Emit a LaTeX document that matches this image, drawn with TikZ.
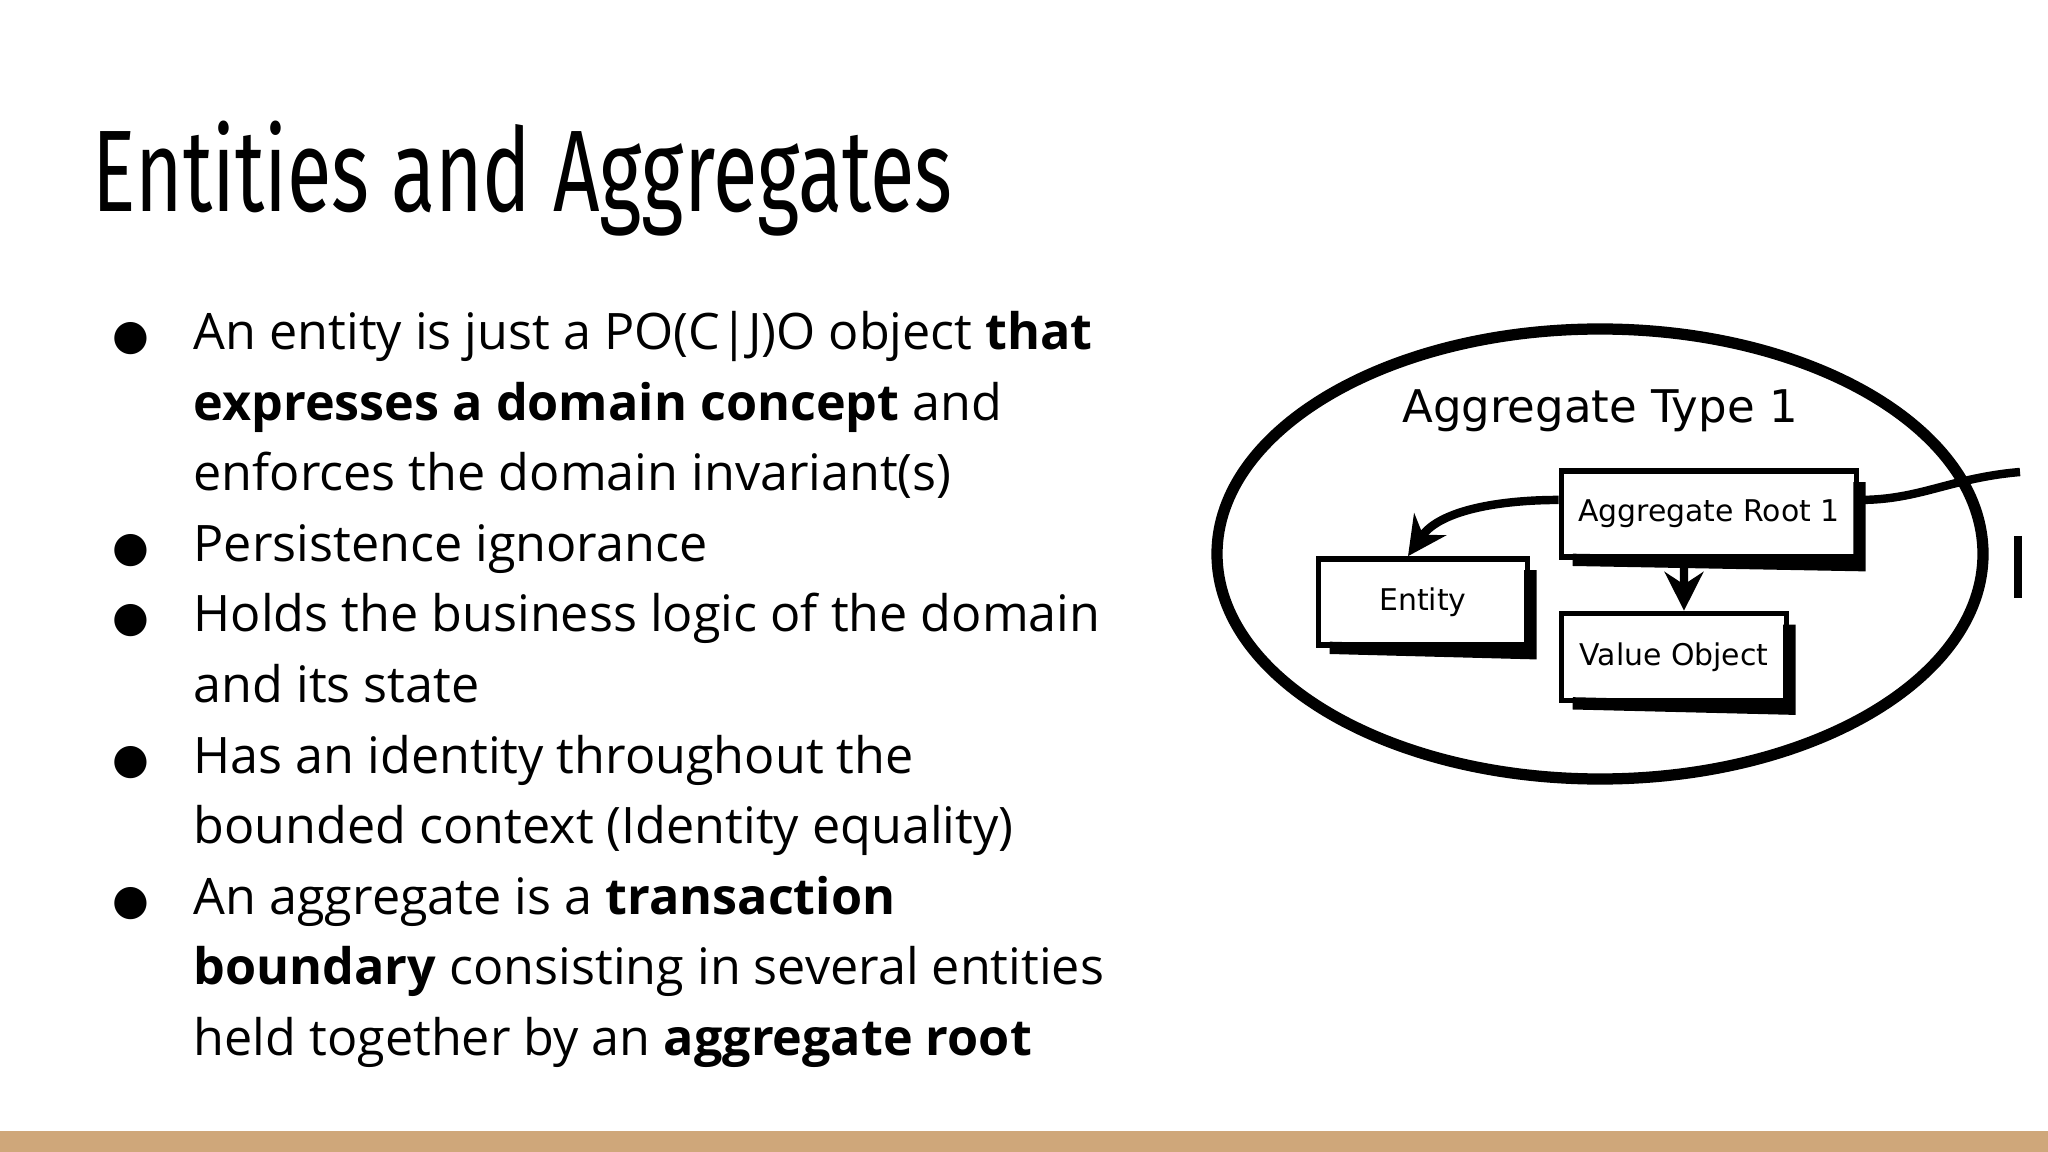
\documentclass[tikz,border=0pt]{standalone}
\usepackage{fontspec}
\setmainfont{Open Sans}
\newfontfamily\titlefont[FakeStretch=0.7]{Fira Sans}
\newfontfamily\diafont{DejaVu Sans}
\usetikzlibrary{arrows.meta}
\definecolor{barcol}{HTML}{CFA77A}
\tikzset{
  ln/.style={anchor=base west,inner sep=0pt,font=\fontsize{14.3}{20}\selectfont},
  bul/.style={anchor=base,inner sep=0pt,font=\diafont\fontsize{12}{20}\selectfont},
  box/.style={draw,line width=1.6pt,minimum width=#1,inner sep=0pt,font=\diafont\fontsize{8.5}{10}\selectfont},
  shad/.style={line width=3.5pt},
  conn/.style={line width=2.4pt,-{Stealth[length=11pt,width=11pt]}}
}
\begin{document}
\begin{tikzpicture}[x=0.01cm,y=-0.01cm]
\useasboundingbox (0,0) rectangle (2048,1152);
\fill[barcol] (0,1131) rectangle (2048,1152);
\node[anchor=base west,inner sep=0pt,font=\titlefont\fontsize{33}{36}\selectfont] (title) at (92,212) {Entities and Aggregates};
\node[ln] (l1) at (193,350) {An entity is just a PO(C|J)O object \textbf{that}};
\node[ln] (l2) at (193,420.5) {\textbf{expresses a domain concept} and};
\node[ln] (l3) at (193,491) {enforces the domain invariant(s)};
\node[ln] (l4) at (193,561.5) {Persistence ignorance};
\node[ln] (l5) at (193,632) {Holds the business logic of the domain};
\node[ln] (l6) at (193,702.5) {and its state};
\node[ln] (l7) at (193,773) {Has an identity throughout the};
\node[ln] (l8) at (193,843.5) {bounded context (Identity equality)};
\node[ln] (l9) at (193,914) {An aggregate is a \textbf{transaction}};
\node[ln] (l10) at (193,984.5) {\textbf{boundary} consisting in several entities};
\node[ln] (l11) at (193,1055) {held together by an \textbf{aggregate root}};
\foreach \n/\y in {b1/350,b2/561.5,b3/632,b4/773,b5/914}
  \node[bul] (\n) at (131,\y) {●};
% diagram
\draw[line width=3.2pt] (1600,554) ellipse [x radius=383, y radius=225];
\node[font=\diafont\fontsize{12.8}{14}\selectfont] (agt) at (1600,411) {Aggregate Type 1};
\node[box=2.95cm,minimum height=0.86cm] (ar) at (1709,514) {Aggregate Root 1};
\node[box=2.09cm,minimum height=0.86cm] (ent) at (1423,602) {Entity};
\node[box=2.25cm,minimum height=0.87cm] (vo) at (1674,657) {Value Object};
\foreach \b in {ar,ent,vo}{
  \draw[shad] ([xshift=4pt]\b.south west) -- ([yshift=-1.5pt]\b.south east) -- ([yshift=-4pt]\b.north east);
}
\draw[conn] ([yshift=4pt]ar.west) .. controls (1500,500) and (1440,510) .. ([xshift=-0.15cm]ent.north);
\draw[conn] ([xshift=-0.25cm]ar.south) -- ([xshift=0.1cm]vo.north);
\coordinate (edge) at (2020,472);
\draw[line width=2.4pt] ([yshift=4pt]ar.east) .. controls (1920,500) and (1950,478) .. (edge);
\draw[line width=2.4pt] (2018,536) -- (2018,598);
\end{tikzpicture}
\end{document}
